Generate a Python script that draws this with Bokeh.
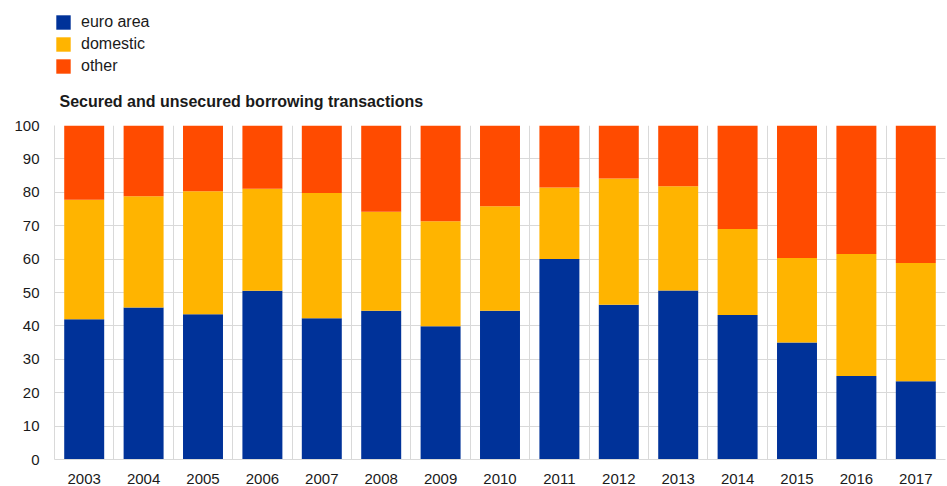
from bokeh.plotting import figure
from bokeh.models import (Legend, LegendItem, FixedTicker, ColumnDataSource, Range1d)
from bokeh.layouts import column
from bokeh.embed import file_html
from bokeh.resources import INLINE

years = [2003, 2004, 2005, 2006, 2007, 2008, 2009, 2010, 2011, 2012, 2013, 2014, 2015, 2016, 2017]
euro_area = [42.0, 45.5, 43.5, 50.5, 42.3, 44.5, 39.9, 44.5, 60.0, 46.3, 50.6, 43.3, 35.0, 25.0, 23.4]
domestic = [35.8, 33.3, 36.8, 30.6, 37.5, 29.7, 31.4, 31.3, 21.4, 37.8, 31.2, 25.7, 25.3, 36.5, 35.4]
other = [22.2, 21.2, 19.7, 18.9, 20.2, 25.8, 28.7, 24.2, 18.6, 15.9, 18.2, 31.0, 39.7, 38.5, 41.2]
series_names = ["euro area", "domestic", "other"]
y_ticks = [0, 10, 20, 30, 40, 50, 60, 70, 80, 90, 100]
title_text = "Secured and unsecured borrowing transactions"

colors = ["#003299", "#FFB400", "#FF4B00"]
FONT = "Liberation Sans"
TXT = "#1a1a1a"
GRID = "#d9d9d9"

W = 947
LEG_H = 74
MAIN_H = 412

src = ColumnDataSource(data=dict(year=years, euro_area=euro_area,
                                 domestic=domestic, other=other))
stack_cols = ["euro_area", "domestic", "other"]
x_lo, x_hi = years[0] - 0.5, years[-1] + 0.5

# ---------------- legend strip ----------------
# The stacked renderers here only feed the legend swatches; this strip's
# y range lies above the data, so no bar is visible in it.
lf = figure(width=W, height=LEG_H, output_backend="svg", toolbar_location=None,
            x_range=Range1d(x_lo, x_hi), y_range=Range1d(150, 250),
            x_axis_location=None, y_axis_location=None,
            min_border_left=52, min_border_top=13, min_border_right=0,
            min_border_bottom=0)
lf.outline_line_color = None
lf.grid.visible = False
swatches = lf.vbar_stack(stack_cols, x="year", width=0.673, color=colors,
                         line_color=None, source=src)
legend = Legend(items=[LegendItem(label=n, renderers=[r]) for n, r in zip(series_names, swatches)],
                orientation="vertical", location="top_left",
                label_text_font=FONT, label_text_font_size="16px", label_text_color=TXT,
                glyph_width=18, glyph_height=18, label_height=18, label_standoff=9,
                spacing=4, padding=0, margin=0,
                border_line_color=None, background_fill_alpha=0)
lf.add_layout(legend, "center")

# ---------------- main chart ----------------
p = figure(width=W, height=MAIN_H, output_backend="svg", toolbar_location=None,
           x_range=Range1d(x_lo, x_hi), y_range=Range1d(0, 100),
           min_border_left=54, min_border_right=2, min_border_top=51,
           min_border_bottom=27, title=title_text)
p.outline_line_color = None

p.vbar_stack(stack_cols, x="year", width=0.673, color=colors, line_color=None, source=src)

for ax in (p.xaxis[0], p.yaxis[0]):
    ax.axis_line_color = GRID
    ax.major_tick_line_color = None
    ax.minor_tick_line_color = None
    ax.major_label_text_font = FONT
    ax.major_label_text_font_size = "15px"
    ax.major_label_text_color = TXT
p.yaxis.ticker = FixedTicker(ticks=y_ticks)
p.yaxis.major_label_standoff = 9
p.xaxis.ticker = FixedTicker(ticks=years)
p.xaxis.major_label_standoff = 8

p.ygrid.ticker = FixedTicker(ticks=y_ticks)
p.ygrid.grid_line_color = GRID
p.xgrid.ticker = FixedTicker(ticks=[y - 0.5 for y in years] + [x_hi])
p.xgrid.grid_line_color = GRID

p.title.text_font = FONT
p.title.text_font_size = "16px"
p.title.text_font_style = "bold"
p.title.text_color = TXT
p.title.offset = 5
p.title.standoff = 32

layout = column(lf, p, spacing=0)
open("out.html", "w").write(file_html(layout, INLINE))
